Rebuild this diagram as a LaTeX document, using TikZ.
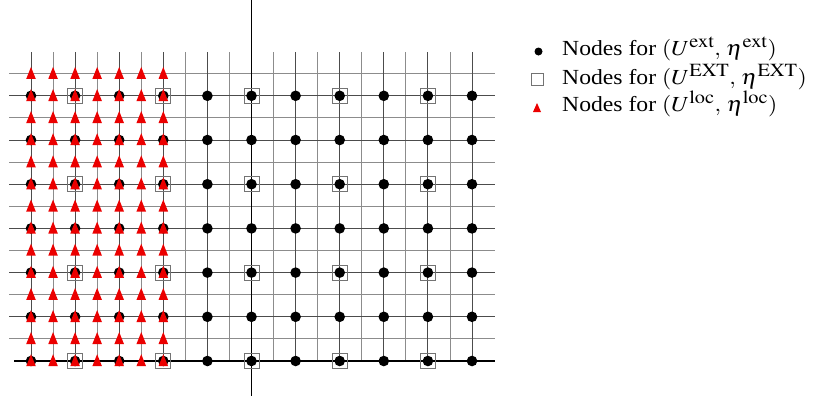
\documentclass[tikz,border=0pt]{standalone}
\usepackage{mathptmx}
\usepackage{fontspec}
\setmainfont{Liberation Serif}
\DeclareMathSizes{21.5}{21.5}{18.5}{14}
\begin{document}
\begin{tikzpicture}[x=1pt,y=-1pt,
  fineline/.style={draw=black!45,line width=0.9pt},
  coarseline/.style={draw=black!70,line width=0.9pt},
  axisline/.style={draw=black,line width=1.7pt},
  dotmark/.style={fill=black},
  boxmark/.style={draw=black!55,line width=0.9pt},
  trimark/.style={fill=red!92!black},
  legendtext/.style={anchor=base west,inner sep=0pt,xscale=1.1,font=\fontsize{21.5}{26}\selectfont}]
\useasboundingbox (0,0) rectangle (829,400);
% fine grid lines
\foreach \i in {1,3,...,19}
  \draw[fineline] ({31+22.05*\i},52) -- ({31+22.05*\i},361);
\foreach \j in {1,3,...,13}
  \draw[fineline] (9,{361-22.1*\j}) -- (495,{361-22.1*\j});
% coarse grid lines
\foreach \i in {0,2,4,6,8,12,14,16,18,20}
  \draw[coarseline] ({31+22.05*\i},52) -- ({31+22.05*\i},361);
\foreach \j in {2,4,...,12}
  \draw[coarseline] (9,{361-22.1*\j}) -- (495,{361-22.1*\j});
% axes
\coordinate (xa) at (14,361);
\coordinate (xb) at (495,361);
\coordinate (ya) at (251.5,0);
\coordinate (yb) at (251.5,396);
\draw[axisline] (xa) -- (xb);
\draw[axisline] (ya) -- (yb);
% nodes for (U^ext, eta^ext)
\foreach \i in {0,2,...,20}
  \foreach \j in {0,2,...,12}
    \fill[dotmark] ({31+22.05*\i},{361-22.1*\j}) circle (5.3);
% nodes for (U^EXT, eta^EXT)
\foreach \i in {2,6,...,18}
  \foreach \j in {0,4,8,12}
    \draw[boxmark] ({31+22.05*\i-7.5},{361-22.1*\j-7.5}) rectangle ++(15,15);
% nodes for (U^loc, eta^loc)
\foreach \i in {0,...,6}
  \foreach \j in {0,...,13}
    \fill[trimark] ({31+22.05*\i},{361-22.1*\j}) ++(0,-6.8) -- ++(4.8,12) -- ++(-9.6,0) -- cycle;
% legend
\fill[dotmark] (538.5,51.5) circle (4);
\draw[boxmark] (531,73) rectangle (543,85);
\fill[trimark] (537,103) -- (541,112) -- (533,112) -- cycle;
\node[legendtext] (l1) at (562,55.7) {Nodes for $(U^{\mathrm{ext}},\,\eta^{\mathrm{ext}})$};
\node[legendtext] (l2) at (562,84) {Nodes for $(U^{\mathrm{EXT}},\,\eta^{\mathrm{EXT}})$};
\node[legendtext] (l3) at (562,111.7) {Nodes for $(U^{\mathrm{loc}},\,\eta^{\mathrm{loc}})$};
\end{tikzpicture}
\end{document}
